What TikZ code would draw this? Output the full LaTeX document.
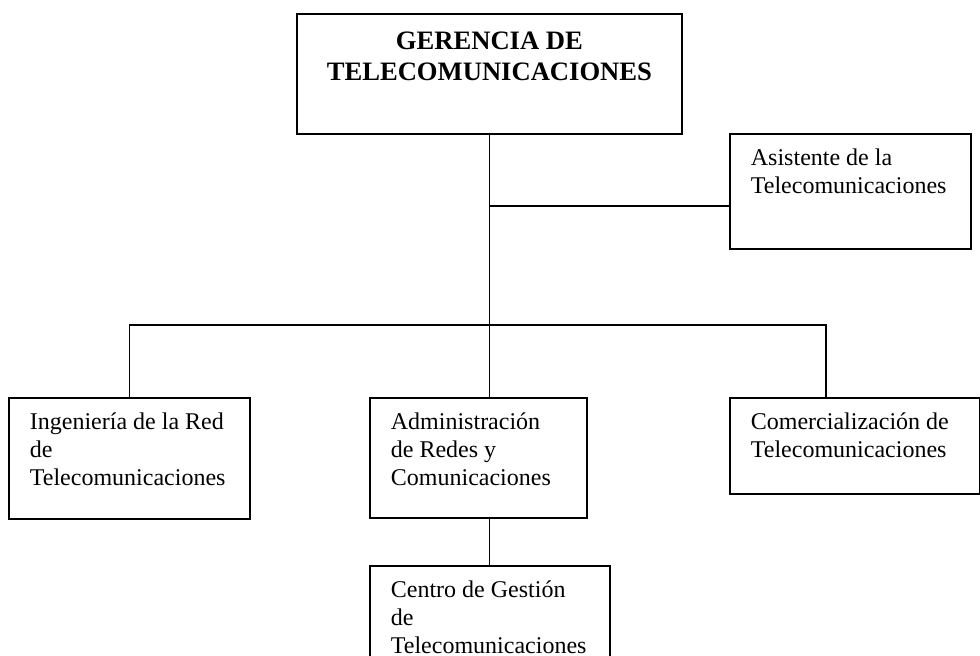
\documentclass[tikz,border=0pt]{standalone}
\usepackage{fontspec}
\setmainfont{Liberation Serif}
\hyphenpenalty=10000
\exhyphenpenalty=10000

\begin{document}
\begin{tikzpicture}[x=0.5pt, y=-0.5pt,
    unit/.style={draw, line width=0.9pt, anchor=north west, align=flush left,
      inner xsep=10.5pt, inner ysep=0pt, text height=16pt,
      font=\fontsize{12}{13.8}\selectfont},
    link/.style={line width=0.9pt}]
      \useasboundingbox (0,0) rectangle (980,656);

      % Draw the head of the department
      \node[unit, align=flush center, text width=171.5pt, text height=18pt, text depth=42pt,
        font=\fontsize{13.3}{15.5}\selectfont\bfseries] (ger) at (296,13)
        {GERENCIA DE\\TELECOMUNICACIONES};

      % Draw the assistant box on the right
      \node[unit, text width=99.5pt, text depth=41.5pt] (asist) at (729,133)
        {Asistente de la\\Telecomunicaciones};

      % Draw the three units under the head
      \node[unit, text width=99.5pt, text depth=44.5pt] (ing) at (8,397)
        {Ingeniería de la Red\\de\\Telecomunicaciones};
      \node[unit, text width=87.5pt, text depth=44pt] (admin) at (369,397)
        {Administración\\de Redes y\\Comunicaciones};
      \node[unit, text width=104pt, text depth=32pt] (comer) at (729,397)
        {Comercialización de\\Telecomunicaciones};

      % Draw the unit under Administracion (runs off the page)
      \node[unit, text width=99pt, text depth=44pt] (centro) at (369,565)
        {Centro de Gestión\\de\\Telecomunicaciones};

      % Branch points on the trunk
      \coordinate (asbr) at (ger.south |- 0,206);
      \coordinate (bus) at (ger.south |- 0,325);
      \coordinate (comdrop) at (826,325);

      % Connect the head to the assistant and to the bus
      \draw[link] (ger.south) -- (bus);
      \draw[link] (asbr) -- (asbr -| asist.west);

      % Connect the bus to the three units
      \draw[link] (ing.north) |- (comdrop) -- (comdrop |- comer.north);
      \draw[link] (bus) -- (bus |- admin.north);

      % Connect Administracion to the Centro
      \draw[link] (bus |- admin.south) -- (bus |- centro.north);
\end{tikzpicture}
\end{document}
